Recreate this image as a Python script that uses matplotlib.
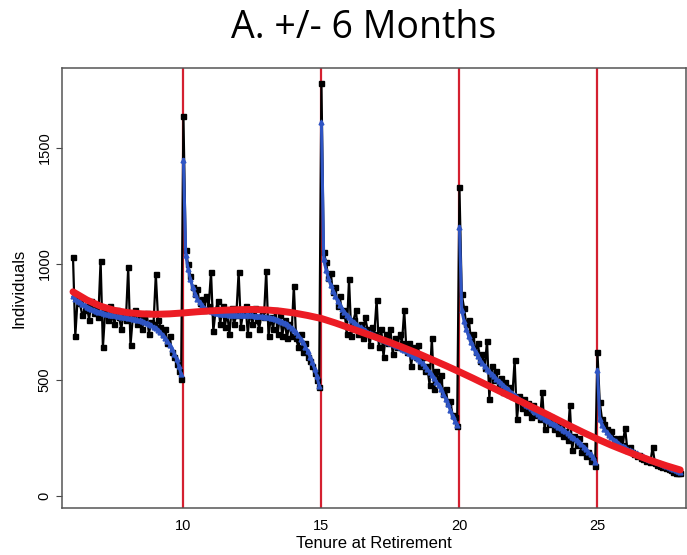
import numpy as np
import matplotlib
matplotlib.use("Agg")
import matplotlib.pyplot as plt

# monthly counts, one row per tenure year (month 0 = anniversary)
counts = {
    6:  [1030, 690, 850, 830, 780, 800, 820, 760, 840, 790, 810, 770],
    7:  [1015, 640, 800, 760, 820, 780, 740, 800, 770, 720, 790, 760],
    8:  [985, 650, 770, 800, 740, 780, 720, 760, 790, 700, 750, 740],
    9:  [955, 760, 730, 700, 720, 660, 690, 620, 600, 570, 540, 505],
    10: [1640, 1060, 1000, 950, 900, 870, 890, 830, 850, 800, 860, 820],
    11: [965, 710, 800, 840, 740, 820, 730, 790, 700, 810, 740, 780],
    12: [965, 730, 790, 820, 700, 800, 740, 810, 760, 720, 800, 770],
    13: [970, 690, 770, 720, 800, 700, 780, 690, 760, 680, 740, 690],
    14: [905, 680, 640, 700, 620, 660, 600, 580, 560, 530, 500, 470],
    15: [1780, 1050, 1010, 940, 960, 880, 900, 820, 860, 780, 800, 700],
    16: [935, 690, 760, 800, 700, 740, 680, 770, 720, 650, 730, 700],
    17: [845, 640, 720, 600, 700, 660, 720, 610, 680, 640, 700, 660],
    18: [800, 620, 660, 560, 640, 600, 650, 560, 600, 540, 560, 480],
    19: [680, 460, 540, 500, 520, 440, 460, 400, 410, 350, 340, 300],
    20: [1330, 870, 810, 740, 760, 680, 700, 620, 660, 580, 610, 550],
    21: [670, 420, 560, 500, 540, 480, 510, 450, 490, 440, 470, 430],
    22: [585, 330, 430, 380, 420, 360, 400, 340, 390, 350, 370, 330],
    23: [450, 290, 350, 310, 340, 290, 320, 270, 300, 260, 280, 240],
    24: [390, 200, 260, 220, 250, 190, 220, 170, 190, 150, 160, 130],
    25: [620, 405, 330, 310, 290, 270, 280, 250, 240, 230, 250, 220],
    26: [295, 200, 210, 190, 180, 170, 175, 165, 160, 150, 155, 145],
    27: [210, 140, 135, 130, 125, 130, 120, 115, 110, 105, 100, 100],
    28: [100],
}

# fitted values per segment (monthly)
fit_6_10 = [860, 850, 842, 835, 828, 822, 816, 811, 806, 802, 798, 795,
            792, 789, 786, 784, 782, 780, 778, 776, 775, 773, 771, 770,
            768, 766, 764, 762, 760, 757, 754, 750, 746, 741, 735, 729,
            722, 714, 705, 694, 682, 668, 652, 634, 613, 589, 560, 525]
fit_10_15 = [1450, 1040, 980, 935, 900, 872, 850, 835, 822, 812, 805, 800,
             796, 793, 790, 788, 786, 785, 784, 783, 782, 782, 781, 781,
             780, 780, 780, 779, 779, 778, 778, 777, 776, 775, 774, 773,
             772, 770, 768, 766, 763, 760, 756, 752, 747, 741, 734, 726,
             716, 705, 692, 678, 662, 644, 624, 601, 576, 548, 516, 475]
fit_15_20 = [1610, 1020, 975, 940, 910, 885, 862, 842, 824, 808, 794, 781,
             770, 760, 751, 742, 734, 727, 720, 714, 708, 702, 697, 692,
             687, 682, 677, 672, 668, 663, 659, 654, 649, 645, 640, 635,
             630, 624, 618, 612, 605, 598, 590, 581, 571, 560, 548, 534,
             522, 508, 493, 477, 459, 440, 419, 396, 371, 344, 325, 305]
fit_20_25 = [1160, 800, 755, 718, 688, 662, 640, 620, 602, 586, 572, 560,
             548, 537, 526, 516, 506, 496, 486, 477, 468, 459, 450, 442,
             434, 426, 418, 410, 402, 394, 386, 378, 370, 362, 354, 346,
             339, 333, 328, 322, 316, 310, 304, 298, 292, 285, 278, 271,
             264, 256, 248, 240, 231, 222, 212, 202, 191, 179, 166, 145]
fit_25_28 = [543, 330, 305, 288, 274, 262, 252, 243, 235, 228, 221, 215,
             209, 203, 198, 193, 188, 183, 178, 174, 170, 165, 161, 157,
             153, 149, 145, 141, 137, 133, 129, 125, 121, 117, 113, 109,
             105]
fits = [(6, fit_6_10), (10, fit_10_15), (15, fit_15_20), (20, fit_20_25), (25, fit_25_28)]

# overall smooth, every half year from 6 to 28
smooth_x = [6 + 0.5 * i for i in range(45)]
smooth_y = [880, 845, 818, 800, 790, 785, 783, 785, 789, 794, 798, 801,
            803, 804, 802, 797, 789, 778, 765, 746, 725, 704, 683, 661,
            638, 614, 588, 562, 535, 507, 478, 449, 420, 391, 362, 332,
            302, 273, 245, 219, 195, 172, 150, 130, 112]

cutoffs = [10, 15, 20, 25]

x_obs, y_obs = [], []
for yr, vals in counts.items():
    for m, v in enumerate(vals):
        x_obs.append(yr + m / 12.0)
        y_obs.append(v)

plt.rcParams['font.family'] = ['Liberation Sans', 'DejaVu Sans']
fig = plt.figure(figsize=(6.87, 5.55), dpi=100)
ax = fig.add_axes([0.0902, 0.0847, 0.908, 0.7928])

for c in cutoffs:
    ax.axvline(c, color='#d42030', lw=1.6, zorder=1)

ax.plot(x_obs, y_obs, color='black', lw=1.6, marker='s', ms=3.6, zorder=2)

for start, f in fits:
    fx = [start + i / 12.0 for i in range(len(f))]
    ax.plot(fx, f, color='#2f55c4', lw=2.2, marker='^', ms=3.5, zorder=3)

ax.plot(smooth_x, smooth_y, color='#ec1c24', lw=5, solid_capstyle='round', zorder=4)

ax.set_xlim(5.6, 28.2)
ax.set_ylim(-52, 1845)
ax.set_xticks([10, 15, 20, 25])
ax.set_yticks([0, 500, 1000, 1500])
ax.set_yticklabels(['0', '500', '1000', '1500'], rotation=90, va='center')
ax.tick_params(axis='both', labelsize=10.5, length=4, color='#444444')
ax.tick_params(axis='x', length=0, pad=8)
ax.set_xlabel('Tenure at Retirement', fontsize=12, labelpad=2)
ax.set_ylabel('Individuals', fontsize=12, labelpad=8)
for s in ax.spines.values():
    s.set_color('#555555')
    s.set_linewidth(1.1)

fig.text(0.529, 0.95, 'A. +/- 6 Months', ha='center', va='center',
         fontsize=27, family=['Open Sans', 'DejaVu Sans'])

fig.savefig('out.png', dpi=100)
